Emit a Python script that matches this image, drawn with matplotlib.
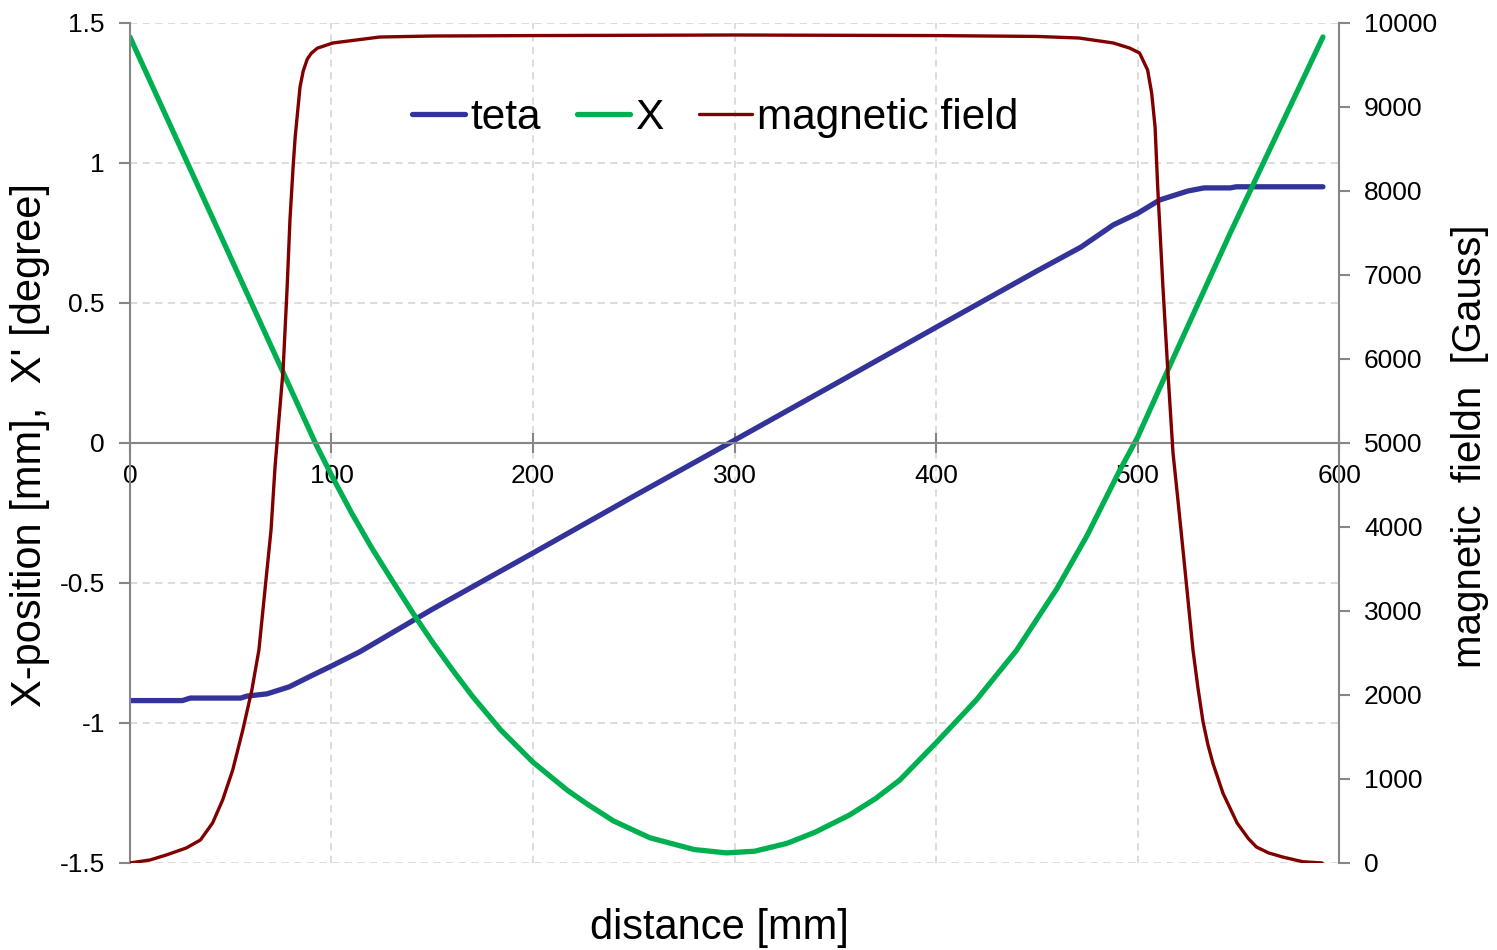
import matplotlib
matplotlib.use("Agg")
import matplotlib.pyplot as plt

plt.rcParams['font.family'] = ['Liberation Sans', 'DejaVu Sans']

# beam angle along the magnet
teta_s = [0, 26, 30, 55, 58, 68, 79, 89, 101, 114, 150, 200, 250, 300,
          350, 400, 450, 472, 488, 500, 511, 525, 533, 546, 549, 592]
teta = [-0.92, -0.92, -0.911, -0.911, -0.904, -0.896, -0.871, -0.835,
        -0.793, -0.746, -0.594, -0.393, -0.19, 0.01, 0.211, 0.413, 0.614,
        0.70, 0.779, 0.82, 0.868, 0.90, 0.911, 0.911, 0.915, 0.915]

# horizontal beam position
x_s = [0, 50, 92, 100, 110, 120, 130, 142, 150, 160, 170, 184, 200, 217,
       227, 240, 258, 280, 296, 310, 326, 340, 357, 370, 382, 400, 420,
       440, 460, 475, 491, 500, 515, 546, 592]
x_pos = [1.45, 0.662, 0.0, -0.115, -0.25, -0.375, -0.49, -0.625, -0.71,
         -0.81, -0.905, -1.025, -1.14, -1.24, -1.29, -1.35, -1.41, -1.452,
         -1.464, -1.458, -1.43, -1.39, -1.329, -1.27, -1.204, -1.071,
         -0.918, -0.74, -0.52, -0.33, -0.10, 0.02, 0.26, 0.75, 1.45]

# measured field map
b_s = [0, 10, 18, 28, 35, 41, 46, 51, 56, 60.5, 64, 67, 70, 72, 74, 76, 78,
       79.4, 81, 82, 84.4, 86, 88, 90, 93, 100.7, 124, 150, 200, 300, 400,
       450, 471, 488, 496, 501, 505, 507, 508.7, 510, 512.6, 515, 517.6, 520,
       523, 525, 527.5, 530, 532.5, 535, 537.5, 542.4, 549.4, 555, 559, 565,
       572, 582, 591.6]
b_field = [0, 36, 95, 179, 274, 476, 750, 1107, 1583, 2060, 2536, 3250,
           3960, 4714, 5300, 5869, 6850, 7655, 8300, 8643, 9238, 9430, 9570,
           9640, 9700, 9762, 9833, 9845, 9850, 9857, 9850, 9840, 9821, 9762,
           9702, 9643, 9440, 9167, 8762, 8048, 6857, 5869, 4881, 4330, 3620,
           3140, 2536, 2080, 1680, 1400, 1180, 830, 476, 290, 190, 120, 71,
           15, 0]

axis_grey = '#868686'
grid_grey = '#D9D9D9'

fig = plt.figure(figsize=(14.97, 9.5), dpi=100)
ax = fig.add_axes([0.0868, 0.0916, 0.8077, 0.8842])
ax2 = ax.twinx()

l1, = ax.plot(teta_s, teta, color='#333399', lw=3.8, solid_capstyle='round',
              label='teta')
l2, = ax.plot(x_s, x_pos, color='#00B050', lw=3.8, solid_capstyle='round',
              label='X')
l3, = ax2.plot(b_s, b_field, color='#800000', lw=2.4,
               solid_capstyle='round', label='magnetic field')

ax.set_xlim(0, 600)
ax.set_ylim(-1.5, 1.5)
ax2.set_ylim(0, 10000)

ax.set_xticks(range(0, 601, 100))
ax.set_yticks([-1.5, -1, -0.5, 0, 0.5, 1, 1.5])
ax.set_yticklabels(['-1.5', '-1', '-0.5', '0', '0.5', '1', '1.5'])
ax2.set_yticks(range(0, 10001, 1000))

# dashed grid, x axis drawn through zero
for v in [-1.5, -1, -0.5, 0.5, 1, 1.5]:
    ax.axhline(v, color=grid_grey, lw=1.3, ls=(0, (4, 3)), zorder=0)
for v in range(100, 600, 100):
    ax.axvline(v, color=grid_grey, lw=1.3, ls=(0, (4, 3)), zorder=0)

for a in (ax, ax2):
    a.spines['top'].set_visible(False)
    a.spines['left'].set_color(axis_grey)
    a.spines['right'].set_color(axis_grey)
    a.spines['left'].set_linewidth(1.5)
    a.spines['right'].set_linewidth(1.5)
ax.spines['right'].set_visible(False)
ax2.spines['left'].set_visible(False)
ax2.spines['bottom'].set_visible(False)
ax.spines['bottom'].set_position(('data', 0))
ax.spines['bottom'].set_color(axis_grey)
ax.spines['bottom'].set_linewidth(1.5)

ax.tick_params(axis='x', direction='inout', length=14, width=1.5,
               color=axis_grey, labelsize=19, pad=8)
ax.tick_params(axis='y', direction='out', length=8, width=1.5,
               color=axis_grey, labelsize=19, pad=10)
ax2.tick_params(axis='y', direction='out', length=8, width=1.5,
                color=axis_grey, labelsize=19, pad=10)

fig.text(0.020, 0.5316, "X-position [mm],  X' [degree]", fontsize=30,
         rotation=90, ha='center', va='center')
fig.text(0.982, 0.530, "magnetic  fieldn  [Gauss]", fontsize=29,
         rotation=90, ha='center', va='center')
fig.text(0.4806, 0.0232, 'distance [mm]', fontsize=30, ha='center',
         va='center')

ax2.legend(handles=[l1, l2, l3], loc='center',
           bbox_to_anchor=(0.484, 0.887), ncol=3, frameon=False,
           fontsize=30.5, handlelength=1.25, handletextpad=0.12,
           columnspacing=0.85)

fig.savefig('out.png', dpi=100)
